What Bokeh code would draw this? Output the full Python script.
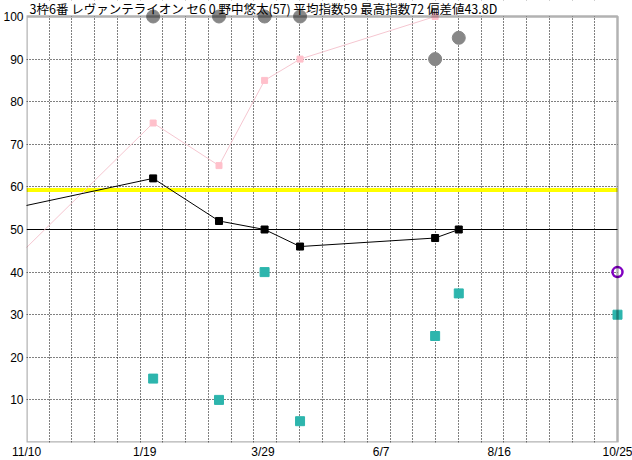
import pandas as pd
from bokeh.plotting import figure
from bokeh.models import Range1d, FixedTicker, Grid, BoxAnnotation, Span, Label
from bokeh.embed import file_html
from bokeh.resources import INLINE

# ---------------- data ----------------
title_text = "3枠6番 レヴァンテライオン セ6 0 野中悠太(57) 平均指数59 最高指数72 偏差値43.8D"
start_date = "2019-11-10"
end_date = "2020-10-25"
tick_dates = ["2019-11-10", "2020-01-19", "2020-03-29", "2020-06-07", "2020-08-16", "2020-10-25"]
tick_labels = ["11/10", "1/19", "3/29", "6/7", "8/16", "10/25"]
y_ticks = [10, 20, 30, 40, 50, 60, 70, 80, 90, 100]

race_dates = ["2020-01-24", "2020-03-03", "2020-03-30", "2020-04-20", "2020-07-09", "2020-07-23"]
gray_values = [100, 100, 100, 100, 90, 95]

black_dates = ["2019-09-28", "2020-01-24", "2020-03-03", "2020-03-30", "2020-04-20", "2020-07-09", "2020-07-23"]
black_values = [52, 62, 52, 50, 46, 48, 50]

pink_dates = ["2019-09-28", "2020-01-24", "2020-03-03", "2020-03-30", "2020-04-20", "2020-07-09"]
pink_values = [29, 75, 65, 85, 90, 100]

teal_dates = ["2020-01-24", "2020-03-03", "2020-03-30", "2020-04-20", "2020-07-09", "2020-07-23", "2020-10-25"]
teal_values = [15, 10, 40, 5, 25, 35, 30]

next_dates = ["2020-10-25"]
next_values = [40]

average_index = 59.3
grid_divisions = 26

# ---------------- helpers ----------------
t0 = pd.Timestamp(start_date)
def days(ds):
    return [(pd.Timestamp(d) - t0).days for d in ds]

span_days = days([end_date])[0]

W, H = 632, 460
left_px, right_px = 25, 616
top_px, bottom_px = 16, 442
px_per_day = (right_px - left_px) / span_days
px_per_unit = (bottom_px - top_px) / 100.0

p = figure(frame_width=W - left_px, frame_height=bottom_px,
           output_backend="svg", toolbar_location=None,
           x_range=Range1d(0, span_days + (W - right_px) / px_per_day),
           y_range=Range1d(0, 100 + top_px / px_per_unit),
           min_border_left=left_px, min_border_right=0,
           min_border_top=0, min_border_bottom=H - bottom_px)
p.outline_line_color = None
p.background_fill_color = "white"
p.border_fill_color = "white"

# axes
tick_days = days(tick_dates)
p.xaxis.ticker = FixedTicker(ticks=tick_days)
p.xaxis.major_label_overrides = {d: lab for d, lab in zip(tick_days, tick_labels)}
p.yaxis.ticker = FixedTicker(ticks=y_ticks)
for ax in (p.xaxis[0], p.yaxis[0]):
    ax.axis_line_color = None
    ax.major_tick_line_color = None
    ax.minor_tick_line_color = None
    ax.major_tick_out = 0
    ax.major_tick_in = 0
    ax.major_label_text_font = "Liberation Sans"
    ax.major_label_text_font_size = "12px"
    ax.major_label_text_color = "black"
p.xaxis.major_label_standoff = 2
p.yaxis.major_label_standoff = 3

# grids
p.xgrid.ticker = FixedTicker(ticks=[k * span_days / grid_divisions for k in range(1, grid_divisions)])
p.xgrid.grid_line_color = "black"
p.xgrid.grid_line_dash = "1 2"
p.xgrid.grid_line_width = 1
p.ygrid.ticker = FixedTicker(ticks=[v for v in y_ticks if v not in (50, 100)])
p.ygrid.grid_line_color = "black"
p.ygrid.grid_line_dash = "1 2"
p.ygrid.grid_line_width = 1
p.add_layout(Grid(dimension=1, ticker=FixedTicker(ticks=[50]), grid_line_color="black",
                  grid_line_width=1, level="underlay"))

p.add_layout(Span(location=average_index, dimension="width", line_color="#ffff00",
                  line_width=4, level="underlay"))

# white covers outside the chart box
p.add_layout(BoxAnnotation(bottom=100, fill_color="white", fill_alpha=1, line_alpha=0, level="underlay"))
p.add_layout(BoxAnnotation(left=span_days, fill_color="white", fill_alpha=1, line_alpha=0, level="underlay"))
# chart box border and title
p.add_layout(BoxAnnotation(left=0, right=span_days, bottom=0, top=100, fill_alpha=0,
                           line_color="black", line_width=2.5, level="glyph"))
p.add_layout(Label(x=3, y=(bottom_px - 8), x_units="screen", y_units="screen", text=title_text,
                   text_font="Noto Sans CJK JP", text_font_size="12.5px", text_color="black",
                   text_baseline="middle", level="glyph"))

# series
p.line(days(pink_dates), pink_values, line_color="#f5c6d0", line_width=1)
p.scatter(days(pink_dates), pink_values, marker="square", size=6, fill_color="#ffc0cb", line_color="#ffc0cb")
p.line(days(black_dates), black_values, line_color="black", line_width=1)
p.scatter(days(black_dates), black_values, marker="square", size=7, fill_color="black", line_color="black")
p.scatter(days(race_dates), gray_values, marker="circle", size=13, fill_color="#878787", line_color="#878787")
p.scatter(days(teal_dates), teal_values, marker="square", size=9, fill_color="#2db5ad", line_color="#2db5ad")
p.scatter(days(next_dates), next_values, marker="circle", size=10, fill_color=None,
          line_color="#8000c0", line_width=2.5)

open("out.html", "w").write(file_html(p, INLINE))
